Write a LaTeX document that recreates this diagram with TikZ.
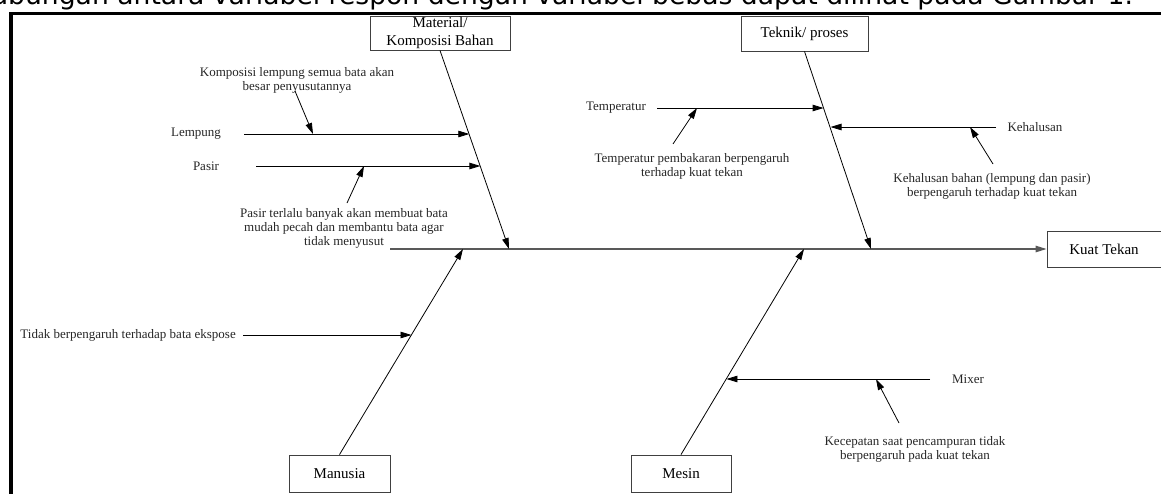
\documentclass[tikz,border=0pt]{standalone}
\usepackage{fontspec}
\setmainfont{Liberation Serif}
\newfontfamily\topfont{DejaVu Sans}
\usetikzlibrary{arrows.meta,calc}
\begin{document}
\begin{tikzpicture}[x=1pt,y=-1pt,
  box/.style={draw=black!75, line width=0.9pt, inner sep=0pt, font=\fontsize{15}{17.5}\selectfont, align=center},
  lbl/.style={font=\fontsize{13}{14}\selectfont, align=center, inner sep=0pt, text=black!85},
  arr/.style={-{Triangle[length=11pt,width=6.5pt]}, line width=0.8pt},
  mainarr/.style={-{Triangle[length=11pt,width=6.5pt]}, line width=1.2pt, draw=black!65},
  ]
\clip (0,0) rectangle (1161,493);
\node[anchor=base east, font=\topfont\fontsize{26.6}{30}\selectfont, inner sep=0pt] (head) at (1133,4.5) {hubungan antara variabel respon dengan variabel bebas dapat dilihat pada Gambar 1.};
\draw[line width=3.5pt] (11,500) -- (11,13.5) -- (1170,13.5);

% boxes
\node[box, minimum width=140pt, minimum height=34pt] (mat) at (440,33) {Material/\\Komposisi Bahan};
\node[box, minimum width=127pt, minimum height=35pt] (tek) at (804.5,33.5) {Teknik/ proses};
\node[box, minimum width=114pt, minimum height=36pt] (kuat) at (1104,249) {Kuat Tekan};
\node[box, minimum width=101pt, minimum height=37pt] (man) at (339.5,473.5) {Manusia};
\node[box, minimum width=100pt, minimum height=37pt] (mes) at (681,473.5) {Mesin};

% spine
\coordinate (spineS) at (390,249);
\draw[mainarr] (spineS) -- (kuat.west);

% bones
\coordinate (matE) at (509,249);
\coordinate (tekE) at (871,249);
\coordinate (manE) at (463,249);
\coordinate (mesE) at (804,249);
\draw[arr] (mat.south) -- (matE);
\draw[arr] (tek.south) -- (tekE);
\draw[arr] (man.north) -- (manE);
\draw[arr] (mes.north) -- (mesE);

% Material causes
\node[lbl] (lemp) at (196,134) {Lempung};
\coordinate (lempS) at (244,134);
\coordinate (lempE) at (469.3,134);
\draw[arr] (lempS) -- (lempE);
\node[lbl] (pasir) at (206,166) {Pasir};
\coordinate (pasirS) at (256,166);
\coordinate (pasirE) at (480.4,166);
\draw[arr] (pasirS) -- (pasirE);
\node[lbl] (komp) at (297,80) {Komposisi lempung semua bata akan\\besar penyusutannya};
\coordinate (kompS) at (295,91);
\coordinate (kompE) at (313,134);
\draw[arr] (kompS) -- (kompE);
\node[lbl] (pasirT) at (344,228) {Pasir terlalu banyak akan membuat bata\\mudah pecah dan membantu bata agar\\tidak menyusut};
\coordinate (pasirTS) at (347,203);
\coordinate (pasirTE) at (364,166);
\draw[arr] (pasirTS) -- (pasirTE);

% Teknik causes
\node[lbl] (temp) at (616,108) {Temperatur};
\coordinate (tempS) at (657,108);
\coordinate (tempE) at (823.6,108);
\draw[arr] (tempS) -- (tempE);
\node[lbl] (tempT) at (692,166) {Temperatur pembakaran berpengaruh\\terhadap kuat tekan};
\coordinate (tempTS) at (673,144);
\coordinate (tempTE) at (697,108);
\draw[arr] (tempTS) -- (tempTE);
\node[lbl] (keh) at (1035,127) {Kehalusan};
\coordinate (kehS) at (996,127);
\coordinate (kehE) at (830.5,127);
\draw[arr] (kehS) -- (kehE);
\node[lbl] (kehT) at (992,186) {Kehalusan bahan (lempung dan pasir)\\berpengaruh terhadap kuat tekan};
\coordinate (kehTS) at (993,164);
\coordinate (kehTE) at (970,127);
\draw[arr] (kehTS) -- (kehTE);

% Manusia causes
\node[lbl, anchor=east] (tidak) at (236,335) {Tidak berpengaruh terhadap bata ekspose};
\coordinate (tidakS) at (243,335);
\coordinate (tidakE) at (411.5,335);
\draw[arr] (tidakS) -- (tidakE);

% Mesin causes
\node[lbl] (mix) at (968,379) {Mixer};
\coordinate (mixS) at (930,379);
\coordinate (mixE) at (726.4,379);
\draw[arr] (mixS) -- (mixE);
\node[lbl] (kec) at (915,449) {Kecepatan saat pencampuran tidak\\berpengaruh pada kuat tekan};
\coordinate (kecS) at (899,423);
\coordinate (kecE) at (876,379);
\draw[arr] (kecS) -- (kecE);
\end{tikzpicture}
\end{document}
